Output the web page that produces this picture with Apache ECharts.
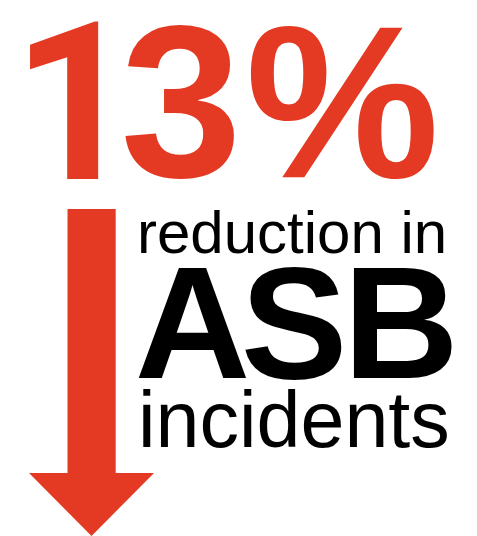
<!DOCTYPE html>
<html>
<head>
<meta charset="utf-8">
<script src="https://cdn.jsdelivr.net/npm/echarts@6/dist/echarts.min.js"></script>
<style>
html,body{margin:0;padding:0;background:#fff;}
#chart{width:477px;height:536px;}
</style>
</head>
<body>
<div id="chart"></div>
<script>
// ---- data ----
const statValues = [13];
const statUnits = ['%'];
const captionLines = ['reduction in', 'ASB', 'incidents'];
const direction = ['down'];

const RED = '#E43A23';
const FONT = '"Liberation Sans", Arial, Helvetica, sans-serif';
const FONT_DIGIT1 = 'Roboto, "Liberation Sans", Arial, sans-serif';

const chart = echarts.init(document.getElementById('chart'), null, {renderer: 'canvas'});

const statText = String(statValues[0]) + statUnits[0];
const statChars = statText.split('');
const statCenters = [75, 181, 342.5];
const statFonts = [FONT_DIGIT1, FONT, FONT];
const statY = [123.5, 116.7, 116.7];
const statSizes = [220, 218, 218];
const asbChars = captionLines[1].split('');
const asbCenters = [192.5, 294, 401];

const graphics = [];
statChars.forEach(function (ch, i) {
  graphics.push({
    type: 'text', x: statCenters[i], y: statY[i],
    style: {text: ch, fill: RED, font: 'bold ' + statSizes[i] + 'px ' + statFonts[i], align: 'center', verticalAlign: 'middle'}
  });
});
graphics.push({
  type: 'text', x: 137, y: 236.7,
  style: {text: captionLines[0], fill: '#000', font: '60px ' + FONT, align: 'left', verticalAlign: 'middle'}
});
asbChars.forEach(function (ch, i) {
  graphics.push({
    type: 'text', x: asbCenters[i], y: 333.5,
    style: {text: ch, fill: '#000', font: 'bold 160px ' + FONT, align: 'center', verticalAlign: 'middle'}
  });
});
graphics.push({
  type: 'text', x: 138, y: 425.5,
  style: {text: captionLines[2], fill: '#000', font: '79px ' + FONT, align: 'left', verticalAlign: 'middle'}
});
// down arrow
graphics.push({
  type: 'polygon',
  shape: {points: [[67.5, 209], [115.7, 209], [115.7, 473], [154, 473], [91.5, 536], [29, 473], [67.5, 473]]},
  style: {fill: RED}
});

chart.setOption({
  backgroundColor: '#fff',
  animation: false,
  graphic: graphics
});
</script>
</body>
</html>
